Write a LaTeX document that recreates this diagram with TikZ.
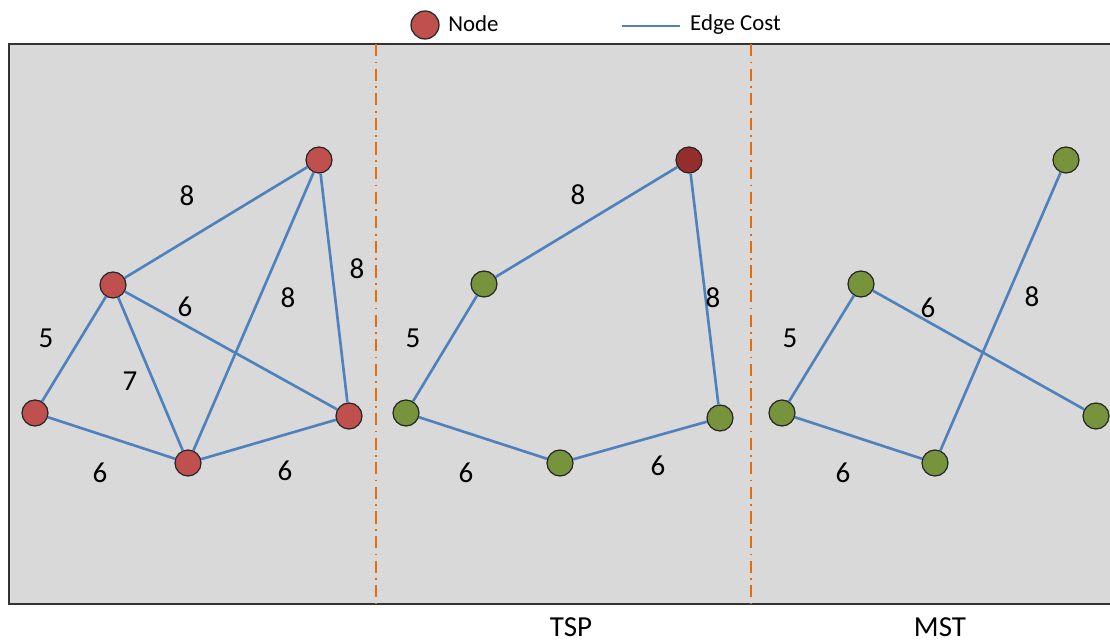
\documentclass[tikz,border=0pt]{standalone}
\usepackage{fontspec}
\setmainfont{Carlito}
\usepackage{xcolor}
\usetikzlibrary{positioning}

\begin{document}
\begin{tikzpicture}[x=0.02cm,y=-0.02cm]
    \definecolor{myred}{RGB}{192,80,77}
    \definecolor{myredd}{RGB}{149,45,45}
    \definecolor{mygreen}{RGB}{119,147,60}
    \definecolor{myblue}{RGB}{79,129,189}
    \definecolor{myorange}{RGB}{228,108,10}
    \definecolor{mygray}{RGB}{217,217,217}

    \tikzstyle{vert}=[circle,draw=black!85,line width=0.7pt,minimum size=0.52cm,inner sep=0pt]  % 节点
    \tikzstyle{redv}=[vert,fill=myred]
    \tikzstyle{greenv}=[vert,fill=mygreen]
    \tikzstyle{edge}=[myblue,line width=1.5pt]  % 边
    \tikzstyle{cost}=[font=\fontsize{16.5}{18}\selectfont]  % 权值
    \tikzstyle{legend}=[font=\fontsize{13}{15}\selectfont]
    \tikzstyle{divider}=[myorange,line width=0.8pt,dash pattern=on 7pt off 3pt on 1pt off 3pt]

    \useasboundingbox (0,0) rectangle (1110,641);
    % 背景
    \fill[mygray] (9,44) rectangle (1110,604);
    \draw[black!80,line width=1pt] (1110,44) -- (9,44) -- (9,604) -- (1110,604);
    \draw[divider] (376,44) -- (376,604);
    \draw[divider] (751,44) -- (751,604);

    % 图
    \node[redv](a) at (319,160){};
    \node[redv](b) at (113,285){};
    \node[redv](c) at (35,413){};
    \node[redv](d) at (188,463){};
    \node[redv](e) at (349,416){};
    % TSP
    \node[vert,fill=myredd](ta) at (689,160){};
    \node[greenv](tb) at (484,284){};
    \node[greenv](tc) at (406,413){};
    \node[greenv](td) at (560,463){};
    \node[greenv](te) at (720,418){};
    % MST
    \node[greenv](ma) at (1066,160){};
    \node[greenv](mb) at (861,284){};
    \node[greenv](mc) at (782,413){};
    \node[greenv](md) at (935,463){};
    \node[greenv](me) at (1096,416){};

    % 开始画线
    \draw[edge](a)--(b);
    \draw[edge](a)--(d);
    \draw[edge](a)--(e);
    \draw[edge](b)--(c);
    \draw[edge](b)--(d);
    \draw[edge](b)--(e);
    \draw[edge](c)--(d);
    \draw[edge](d)--(e);
    \draw[edge](ta)--(tb);
    \draw[edge](ta)--(te);
    \draw[edge](tb)--(tc);
    \draw[edge](tc)--(td);
    \draw[edge](td)--(te);
    \draw[edge](ma)--(md);
    \draw[edge](mb)--(me);
    \draw[edge](mb)--(mc);
    \draw[edge](mc)--(md);

    % 权值
    \node[cost](w1) at (187,196){8};
    \node[cost](w2) at (357,269){8};
    \node[cost](w3) at (288,298){8};
    \node[cost](w4) at (185,307){6};
    \node[cost](w5) at (46,338){5};
    \node[cost](w6) at (130,381){7};
    \node[cost](w7) at (100,473){6};
    \node[cost](w8) at (285,471){6};
    \node[cost](tw1) at (578,195){8};
    \node[cost](tw2) at (713,298){8};
    \node[cost](tw3) at (413,338){5};
    \node[cost](tw4) at (466,473){6};
    \node[cost](tw5) at (658,466){6};
    \node[cost](mw1) at (1032,297){8};
    \node[cost](mw2) at (928,308){6};
    \node[cost](mw3) at (790,338){5};
    \node[cost](mw4) at (843,473){6};

    \node[cost](tsp) at (571,627){TSP};
    \node[cost](mst) at (940,627){MST};

    % 图例
    \node[redv,minimum size=0.56cm](lnode) at (425,25){};
    \node[legend,right=0.05cm of lnode,yshift=1pt](ltext){Node};
    \coordinate(l1) at (622,26);
    \coordinate(l2) at (680,26);
    \draw[myblue,line width=1pt](l1)--(l2);
    \node[legend,right=0.08cm of l2,yshift=1pt](ltext2){Edge Cost};
\end{tikzpicture}
\end{document}
